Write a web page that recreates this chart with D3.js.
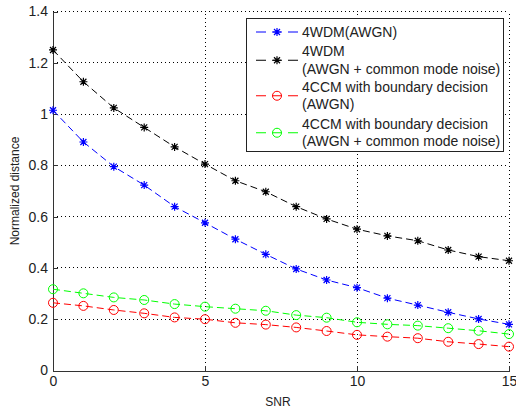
<!DOCTYPE html>
<html>
<head>
<meta charset="utf-8">
<script src="https://cdn.jsdelivr.net/npm/d3@7"></script>
<style>
  body { margin: 0; background: #fff; }
  text { font-family: Arial, "Liberation Sans", sans-serif; fill: #222; }
</style>
</head>
<body>
<svg id="chart" width="516" height="411"></svg>
<script>
const snr = [0,1,2,3,4,5,6,7,8,9,10,11,12,13,14,15];
const wdmAwgn = [1.015,0.891,0.795,0.723,0.639,0.576,0.512,0.453,0.396,0.353,0.323,0.282,0.255,0.227,0.201,0.180];
const wdmCmn  = [1.250,1.126,1.024,0.948,0.872,0.805,0.740,0.697,0.639,0.591,0.551,0.525,0.506,0.470,0.444,0.428];
const ccmAwgn = [0.264,0.252,0.236,0.223,0.207,0.200,0.186,0.179,0.168,0.154,0.139,0.132,0.126,0.112,0.103,0.093];
const ccmCmn  = [0.317,0.301,0.285,0.275,0.259,0.249,0.241,0.233,0.216,0.206,0.188,0.180,0.175,0.165,0.155,0.142];
const xTicks = [0,5,10,15];
const yTicks = [0,0.2,0.4,0.6,0.8,1,1.2,1.4];
const seriesNames = [
  ["4WDM(AWGN)"],
  ["4WDM","(AWGN + common mode noise)"],
  ["4CCM with boundary decision","(AWGN)"],
  ["4CCM with boundary decision","(AWGN + common mode noise)"]
];
const seriesColors = ["#0000ff","#000000","#ff0000","#00ff00"];
const seriesMarkers = ["star","star","circle","circle"];
const seriesValues = [wdmAwgn, wdmCmn, ccmAwgn, ccmCmn];

const svg = d3.select("#chart");
const x = d3.scaleLinear().domain([0,15]).range([53,509]);
const y = d3.scaleLinear().domain([0,1.4]).range([370.5,11.5]);

// grid
const grid = svg.append("g");
xTicks.forEach(t => {
  if (t === 0) return;
  grid.append("line").attr("x1", x(t)).attr("x2", x(t)).attr("y1", y(0)).attr("y2", y(1.4))
    .attr("stroke", "#000").attr("stroke-width", 1).attr("stroke-dasharray", "1,3")
    .attr("shape-rendering", "crispEdges");
});
yTicks.forEach(t => {
  if (t === 0) return;
  grid.append("line").attr("x1", x(0)).attr("x2", x(15)).attr("y1", y(t)).attr("y2", y(t))
    .attr("stroke", "#000").attr("stroke-width", 1).attr("stroke-dasharray", "1,3")
    .attr("shape-rendering", "crispEdges");
});

// axes
const xAxis = d3.axisBottom(x).tickValues(xTicks).tickFormat(d3.format("d")).tickSizeInner(-5).tickSizeOuter(0).tickPadding(10);
const yAxis = d3.axisLeft(y).tickValues(yTicks).tickFormat(d => d === 0 ? "0" : d === 1 ? "1" : d3.format(".1f")(d)).tickSizeInner(-5).tickSizeOuter(0).tickPadding(10);
const gx = svg.append("g").attr("transform", `translate(0,${y(0)})`).call(xAxis);
const gy = svg.append("g").attr("transform", `translate(${x(0)},0)`).call(yAxis);
[gx, gy].forEach(g => {
  g.select(".domain").attr("stroke", "#333").attr("shape-rendering", "crispEdges");
  g.selectAll(".tick line").attr("stroke", "#333").attr("shape-rendering", "crispEdges");
  g.selectAll(".tick text").attr("font-size", 14).attr("fill", "#222")
    .style("font-family", "Arial, 'Liberation Sans', sans-serif");
});
gx.selectAll(".tick text").attr("dy", "0.35em").attr("y", 11);
gy.selectAll(".tick text").attr("x", -5);

// axis labels
svg.append("text").attr("x", 278).attr("y", 406).attr("text-anchor", "middle").attr("font-size", 12).text("SNR");
svg.append("text").attr("transform", "translate(19,191) rotate(-90)").attr("text-anchor", "middle").attr("font-size", 12).text("Normalized distance");

function drawMarker(g, type, cx, cy, color) {
  if (type === "circle") {
    g.append("circle").attr("cx", cx).attr("cy", cy).attr("r", 4.5)
      .attr("fill", "none").attr("stroke", color).attr("stroke-width", 1);
  } else {
    const s = 4, d = 3;
    const p = `M${cx-s},${cy}L${cx+s},${cy}M${cx},${cy-s}L${cx},${cy+s}M${cx-d},${cy-d}L${cx+d},${cy+d}M${cx-d},${cy+d}L${cx+d},${cy-d}`;
    g.append("path").attr("d", p).attr("stroke", color).attr("stroke-width", 1.2).attr("fill", "none");
  }
}

// series
const line = d3.line().x((d,i) => x(snr[i])).y(d => y(d));
seriesValues.forEach((vals, k) => {
  const g = svg.append("g");
  g.append("path").datum(vals).attr("d", line).attr("fill", "none")
    .attr("stroke", seriesColors[k]).attr("stroke-width", 1).attr("stroke-dasharray", "7,4");
  vals.forEach((v, i) => drawMarker(g, seriesMarkers[k], x(snr[i]), y(v), seriesColors[k]));
});

// legend
const lg = svg.append("g");
lg.append("rect").attr("x", 246.5).attr("y", 18.5).attr("width", 257).attr("height", 133)
  .attr("fill", "#fff").attr("stroke", "#222").attr("stroke-width", 1);
const entryLineY = [[32],[51.5,69],[87,104.5],[124,141.5]];
entryLineY.forEach((ys, k) => {
  const my = ys.length === 1 ? ys[0] : (ys[0] + ys[1]) / 2;
  lg.append("line").attr("x1", 256).attr("x2", 298).attr("y1", my).attr("y2", my)
    .attr("stroke", seriesColors[k]).attr("stroke-width", 1).attr("stroke-dasharray", "10,6");
  drawMarker(lg, seriesMarkers[k], 277, my, seriesColors[k]);
  seriesNames[k].forEach((t, j) => {
    lg.append("text").attr("x", 302).attr("y", ys[j]).attr("dy", "0.35em")
      .attr("font-size", 14).text(t);
  });
});
</script>
</body>
</html>
